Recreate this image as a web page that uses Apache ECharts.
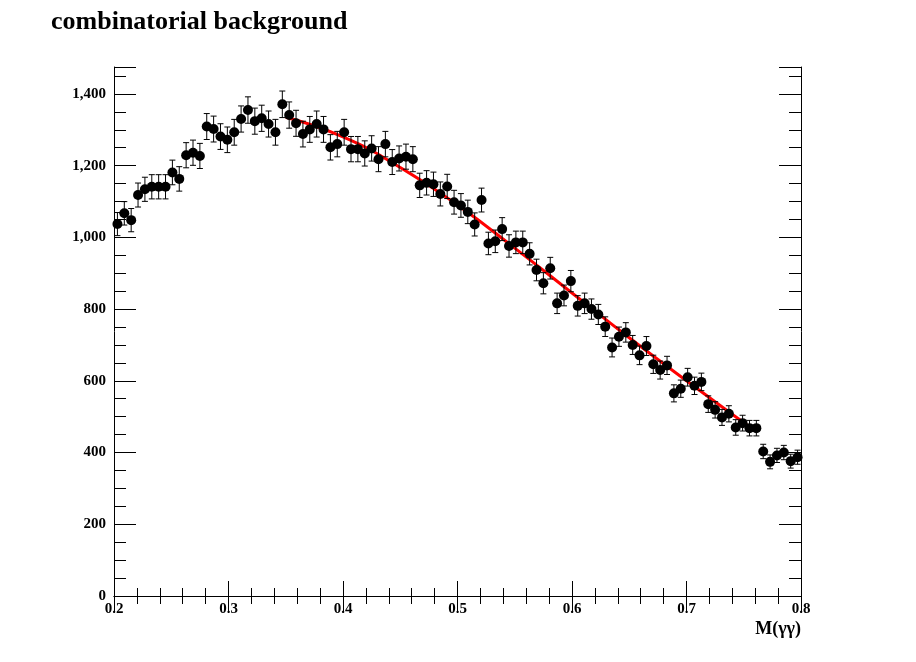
<!DOCTYPE html>
<html><head><meta charset="utf-8">
<script src="https://cdn.jsdelivr.net/npm/echarts@6/dist/echarts.min.js"></script>
<style>html,body{margin:0;padding:0;background:#fff}#c{width:916px;height:662px}</style>
</head><body><div id="c"></div>
<script>
var binStart = 0.2, binWidth = 0.006;
var counts = [1037,1067,1048,1118,1134,1141,1141,1141,1181,1163,1229,1236,1227,1309,1302,1281,1272,1293,1330,1355,
1324,1332,1316,1293,1371,1341,1318,1288,1301,1316,1301,1251,1260,1293,1246,1246,1234,1248,1218,1260,
1210,1220,1225,1218,1145,1152,1148,1121,1142,1098,1089,1071,1036,1104,983,989,1023,976,986,986,
954,909,872,914,816,838,878,809,816,800,785,751,693,723,735,700,671,697,646,630,
643,565,578,610,586,597,535,519,498,508,470,482,468,468,403,374,392,400,376,387];
var fitX = [0.35,0.40,0.45,0.50,0.55,0.60,0.65,0.70,0.76];
var fitY = [1335,1280,1195,1090,970,845,720,600,460];
var xTicks = [0.2,0.3,0.4,0.5,0.6,0.7,0.8];

var pts = counts.map(function(v,i){return [binStart+binWidth*(i+0.5), v, Math.sqrt(v)];});
var fit = fitX.map(function(x,i){return [x,fitY[i]];});
var F = 'Liberation Serif';
var chart = echarts.init(document.getElementById('c'));
var axisLine = {show:true,lineStyle:{color:'#000',width:1}};
chart.setOption({
  animation:false,
  title:{text:'combinatorial background',left:46,top:4,textStyle:{fontFamily:F,fontWeight:'bold',fontSize:26,color:'#000'}},
  grid:{left:114,right:115,top:67,bottom:66},
  xAxis:[{type:'value',min:0.2,max:0.8,interval:0.1,axisLine:axisLine,
    axisTick:{inside:true,length:15,lineStyle:{color:'#000'}},
    minorTick:{show:true,splitNumber:5,length:8,lineStyle:{color:'#000'}},
    splitLine:{show:false},
    axisLabel:{fontFamily:F,fontWeight:'bold',fontSize:15,color:'#000',margin:6,formatter:function(v){return (+v.toFixed(1)).toString();}},
    name:'M(γγ)',nameLocation:'end',nameGap:0,
    nameTextStyle:{fontFamily:F,fontWeight:'bold',fontSize:18,color:'#000',align:'right',verticalAlign:'top',padding:[24,0,0,0]}},
   {type:'value',position:'top',min:0.2,max:0.8,interval:0.1,axisLine:axisLine,
    axisTick:{inside:true,length:15,lineStyle:{color:'#000'}},
    minorTick:{show:true,splitNumber:5,length:8,lineStyle:{color:'#000'}},
    splitLine:{show:false},axisLabel:{show:false}}],
  yAxis:[{type:'value',min:0,max:1475,interval:200,axisLine:axisLine,
    axisTick:{inside:true,length:22,lineStyle:{color:'#000'}},
    minorTick:{show:true,splitNumber:4,length:12,lineStyle:{color:'#000'}},
    splitLine:{show:false},
    axisLabel:{fontFamily:F,fontWeight:'bold',fontSize:15,color:'#000',margin:8,showMaxLabel:false}},
   {type:'value',position:'right',min:0,max:1475,interval:200,axisLine:axisLine,
    axisTick:{inside:true,length:22,lineStyle:{color:'#000'}},
    minorTick:{show:true,splitNumber:4,length:12,lineStyle:{color:'#000'}},
    splitLine:{show:false},axisLabel:{show:false}}],
  series:[
   {type:'line',data:fit,smooth:true,showSymbol:false,symbol:'none',lineStyle:{color:'#ff0000',width:3},z:2},
   {type:'custom',data:pts,z:3,
    renderItem:function(params,api){
      var x=api.value(0),y=api.value(1),e=api.value(2);
      var p=api.coord([x,y]),hi=api.coord([x,y+e]),lo=api.coord([x,y-e]);
      var st={stroke:'#000',lineWidth:1};
      return {type:'group',children:[
        {type:'line',shape:{x1:p[0],y1:hi[1],x2:p[0],y2:lo[1]},style:st},
        {type:'line',shape:{x1:p[0]-3,y1:hi[1],x2:p[0]+3,y2:hi[1]},style:st},
        {type:'line',shape:{x1:p[0]-3,y1:lo[1],x2:p[0]+3,y2:lo[1]},style:st},
        {type:'circle',shape:{cx:p[0],cy:p[1],r:5},style:{fill:'#000'}}
      ]};
    }}
  ]
});
</script></body></html>
